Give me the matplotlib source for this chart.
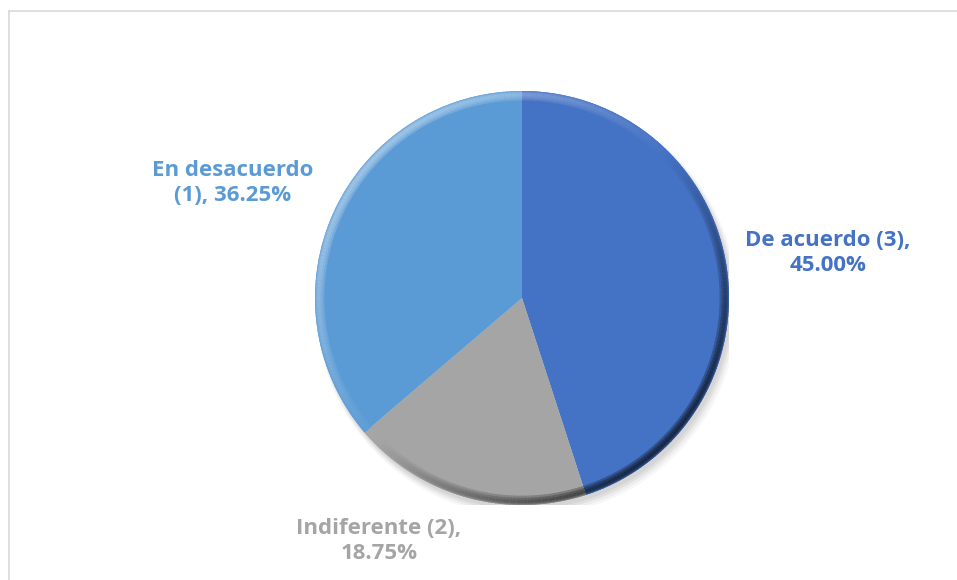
import numpy as np
import matplotlib
matplotlib.use("Agg")
import matplotlib.pyplot as plt
from matplotlib.patches import Wedge, Circle
from matplotlib.lines import Line2D
from matplotlib.colors import to_rgb

categorias = ["De acuerdo (3)", "Indiferente (2)", "En desacuerdo (1)"]
porcentajes = [45.00, 18.75, 36.25]
colores = ["#4472C4", "#A5A5A5", "#5B9BD5"]

W, H = 957, 580
fig = plt.figure(figsize=(W / 100, H / 100), dpi=100)
fig.patch.set_facecolor("white")

# borde del area del grafico (sale por derecha y abajo)
borde = dict(color="#D9D9D9", linewidth=1.2)
fig.add_artist(Line2D([9 / W, 1.01], [1 - 11 / H, 1 - 11 / H], transform=fig.transFigure, **borde))
fig.add_artist(Line2D([9 / W, 9 / W], [-0.01, 1 - 11 / H], transform=fig.transFigure, **borde))

cx, cy, r = 522, 298, 207
ax = fig.add_axes([(cx - r) / W, (H - cy - r) / H, 2 * r / W, 2 * r / H])

# sombra suave
for k, a in enumerate([0.05, 0.05, 0.04, 0.03]):
    ax.add_patch(Circle((0.012 + k * 0.004, -0.02 - k * 0.006), 1.0 + k * 0.006,
                        color="black", alpha=a, lw=0, zorder=0))

wedges, _ = ax.pie(porcentajes, colors=colores, startangle=90, counterclock=False,
                   radius=1, wedgeprops=dict(linewidth=0))
for w in wedges:
    w.set_zorder(1)

ax.set_xlim(-1, 1)
ax.set_ylim(-1, 1)
ax.set_aspect("equal")
ax.axis("off")


def sombreado(base, ang, fuerza):
    c = np.array(to_rgb(base))
    f = np.cos(np.radians(ang - 135))
    if f > 0:
        return tuple(c + (1 - c) * f * 0.4 * fuerza)
    return tuple(c * (1 - abs(f) * 0.65 * fuerza))


# bisel en el borde de cada sector
paso = 1.0
for w, col in zip(wedges, colores):
    t1, t2 = w.theta1, w.theta2
    for a in np.arange(t1, t2, paso):
        b = min(a + paso + 0.3, t2)
        for rin, rout, fz in [(0.955, 1.0, 0.45), (0.965, 0.995, 0.8), (0.975, 0.99, 1.0)]:
            ax.add_patch(Wedge((0, 0), rout, a, b, width=rout - rin,
                               color=sombreado(col, (a + b) / 2, fz), lw=0, zorder=2))

fuente = ["Open Sans", "DejaVu Sans"]
etiquetas = [
    ("De acuerdo (3),\n45.00%", 828, 253, colores[0]),
    ("Indiferente (2),\n18.75%", 379, 541, colores[1]),
    ("En desacuerdo\n(1), 36.25%", 233, 183, colores[2]),
]
for txt, x, y, c in etiquetas:
    fig.text(x / W, 1 - y / H, txt, ha="center", va="center", color=c,
             fontsize=16, fontweight="bold", family=fuente, linespacing=1.2)

fig.savefig("out.png", dpi=100)
